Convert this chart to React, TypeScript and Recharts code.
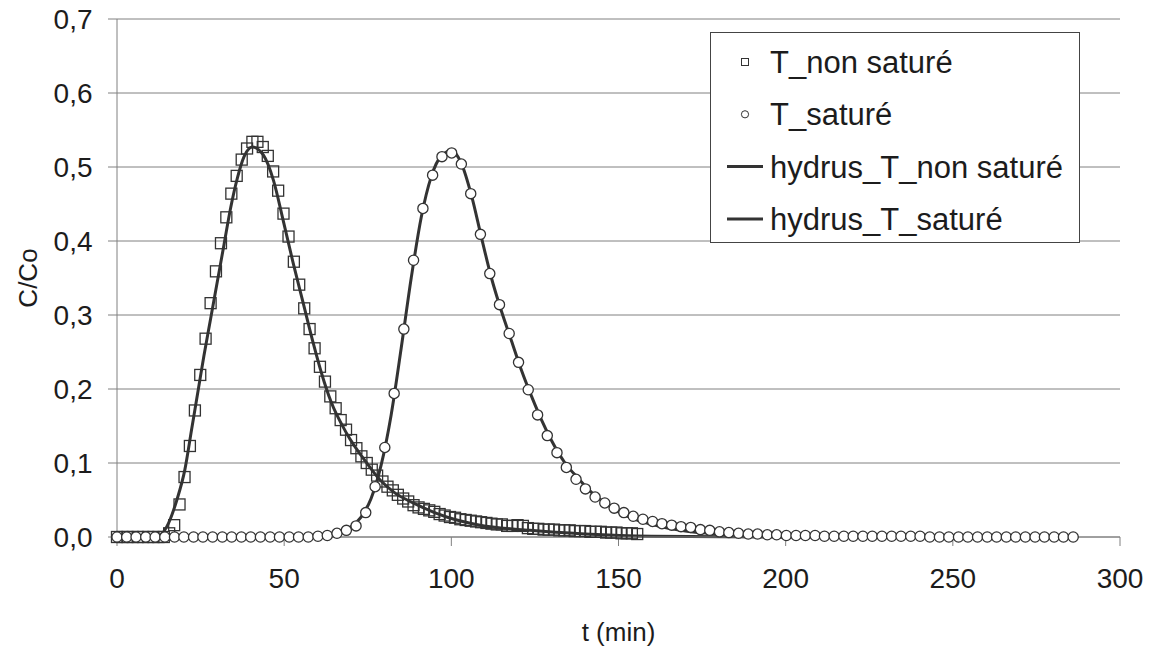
import { CartesianGrid, ComposedChart, Label, Line, Scatter, XAxis, YAxis } from "recharts";

const FONT = "'Liberation Sans', Arial, Helvetica, sans-serif";
const INK = "#333333";
const GRID = "#808080";
const TEXT = "#1c1c1c";

// measured: T_non saturé (squares)
const SQUARE_T = [
  0, 1.6, 3.1, 4.7, 6.2, 7.8, 9.3, 10.9, 12.4, 14.0,
  15.6, 17.1, 18.7, 20.2, 21.8, 23.3, 24.9, 26.5, 28.0, 29.6,
  31.1, 32.7, 34.2, 35.8, 37.3, 38.9, 40.5, 42.0, 43.6, 45.1,
  46.7, 48.2, 49.8, 51.3, 52.9, 54.5, 56.0, 57.6, 59.1, 60.7,
  62.2, 63.8, 65.4, 66.9, 68.5, 70.0, 71.6, 73.1, 74.7, 76.2,
  77.8, 79.4, 80.9, 82.5, 84.0, 85.6, 87.1, 88.7, 90.2, 91.8,
  93.4, 94.9, 96.5, 98.0, 99.6, 101.1, 102.7, 104.3, 105.8, 107.4,
  108.9, 110.5, 112.0, 113.6, 115.1, 116.7, 118.3, 119.8, 121.4, 122.9,
  124.5, 126.0, 127.6, 129.1, 130.7, 132.3, 133.8, 135.4, 136.9, 138.5,
  140.0, 141.6, 143.2, 144.7, 146.3, 147.8, 149.4, 150.9, 152.5, 154.0,
  155.6,
];
const SQUARE_C = [
  0, 0, 0, 0, 0, 0, 0, 0, 0, 0,
  0.005, 0.016, 0.044, 0.081, 0.123, 0.171, 0.219, 0.268, 0.316, 0.359,
  0.397, 0.432, 0.464, 0.488, 0.51, 0.525, 0.534, 0.534, 0.527, 0.515,
  0.494, 0.468, 0.437, 0.406, 0.372, 0.341, 0.309, 0.281, 0.255, 0.23,
  0.21, 0.19, 0.174, 0.158, 0.145, 0.131, 0.12, 0.109, 0.1, 0.091,
  0.083, 0.075, 0.068, 0.063, 0.057, 0.052, 0.048, 0.043, 0.04, 0.038,
  0.036, 0.034, 0.031, 0.029, 0.027, 0.026, 0.024, 0.023, 0.022, 0.021,
  0.02, 0.019, 0.018, 0.017, 0.017, 0.015, 0.015, 0.016, 0.015, 0.012,
  0.011, 0.011, 0.01, 0.01, 0.01, 0.009, 0.009, 0.009, 0.008, 0.008,
  0.008, 0.007, 0.007, 0.007, 0.006, 0.006, 0.006, 0.005, 0.005, 0.005,
  0.004,
];

// measured: T_saturé (circles)
const CIRCLE_T = [
  0, 2.9, 5.7, 8.6, 11.4, 14.3, 17.2, 20.0, 22.9, 25.7,
  28.6, 31.5, 34.3, 37.2, 40.0, 42.9, 45.8, 48.6, 51.5, 54.3,
  57.2, 60.1, 62.9, 65.8, 68.6, 71.5, 74.4, 77.2, 80.1, 82.9,
  85.8, 88.7, 91.5, 94.4, 97.2, 100.1, 103.0, 105.8, 108.7, 111.5,
  114.4, 117.3, 120.1, 123.0, 125.8, 128.7, 131.6, 134.4, 137.3, 140.1,
  143.0, 145.9, 148.7, 151.6, 154.4, 157.3, 160.2, 163.0, 165.9, 168.7,
  171.6, 174.5, 177.3, 180.2, 183.0, 185.9, 188.8, 191.6, 194.5, 197.3,
  200.2, 203.1, 205.9, 208.8, 211.6, 214.5, 217.4, 220.2, 223.1, 225.9,
  228.8, 231.7, 234.5, 237.4, 240.2, 243.1, 246.0, 248.8, 251.7, 254.5,
  257.4, 260.3, 263.1, 266.0, 268.8, 271.7, 274.6, 277.4, 280.3, 283.1,
  286.0,
];
const CIRCLE_C = [
  0, 0, 0, 0, 0, 0, 0, 0, 0, 0,
  0, 0, 0, 0, 0, 0, 0, 0, 0, 0,
  0, 0.001, 0.002, 0.005, 0.009, 0.015, 0.033, 0.068, 0.121, 0.194,
  0.281, 0.374, 0.444, 0.489, 0.514, 0.519, 0.504, 0.464, 0.409, 0.356,
  0.314, 0.275, 0.236, 0.199, 0.165, 0.137, 0.114, 0.094, 0.078, 0.065,
  0.054, 0.046, 0.039, 0.033, 0.028, 0.024, 0.021, 0.018, 0.016, 0.014,
  0.013, 0.01, 0.009, 0.007, 0.006, 0.005, 0.004, 0.004, 0.003, 0.003,
  0.002, 0.002, 0.002, 0.002, 0.001, 0.001, 0.001, 0.001, 0.001, 0.001,
  0.001, 0.001, 0.001, 0.001, 0.001, 0, 0, 0, 0, 0,
  0, 0, 0, 0, 0, 0, 0, 0, 0, 0,
  0,
];

// model: hydrus_T_non saturé
const HYD_NS_T = [
  0, 10, 12.3, 14.9, 17.9, 20.3, 22.3, 24.3, 26, 28, 30, 32, 34, 36, 38, 40.5,
  43.8, 46.8, 49.7, 52.7, 55.7, 58.7, 61.2, 64, 68.7, 74.7, 78.7, 83, 88.6,
  98.6, 108.6, 123.5, 140, 160, 200,
];
const HYD_NS_C = [
  0, 0, 0.001, 0.014, 0.05, 0.091, 0.145, 0.199, 0.245, 0.295, 0.345, 0.395,
  0.445, 0.485, 0.514, 0.527, 0.516, 0.482, 0.428, 0.37, 0.316, 0.262, 0.221,
  0.183, 0.14, 0.1, 0.077, 0.06, 0.046, 0.027, 0.016, 0.009, 0.004, 0.001, 0,
];

// model: hydrus_T_saturé
const HYD_S_T = [
  0, 55, 62, 66, 70, 73, 76, 79, 82, 85, 88, 91, 94, 97, 100, 103, 106, 109,
  112, 115, 118, 121, 124, 127, 130, 134, 138, 142, 146, 150, 155, 160, 170,
  180, 190, 200,
];
const HYD_S_C = [
  0, 0, 0.002, 0.006, 0.014, 0.027, 0.052, 0.097, 0.165, 0.255, 0.35, 0.432,
  0.487, 0.515, 0.522, 0.505, 0.462, 0.405, 0.35, 0.305, 0.265, 0.225, 0.19,
  0.158, 0.13, 0.1, 0.079, 0.06, 0.046, 0.034, 0.024, 0.017, 0.008, 0.004,
  0.002, 0,
];

const X_TICKS = [0, 50, 100, 150, 200, 250, 300];
const Y_TICKS = [0, 0.1, 0.2, 0.3, 0.4, 0.5, 0.6, 0.7];

const LEGEND_ITEMS = [
  { label: "T_non saturé", kind: "square" },
  { label: "T_saturé", kind: "circle" },
  { label: "hydrus_T_non saturé", kind: "line" },
  { label: "hydrus_T_saturé", kind: "line" },
];

const zip = (ts: number[], cs: number[]) => ts.map((t, i) => ({ t, c: cs[i] }));

const squarePoints = zip(SQUARE_T, SQUARE_C);
const circlePoints = zip(CIRCLE_T, CIRCLE_C);
const hydrusNonSat = zip(HYD_NS_T, HYD_NS_C);
const hydrusSat = zip(HYD_S_T, HYD_S_C);

function SquareMarker(props: any) {
  const { cx, cy } = props;
  if (cx == null || cy == null) return null;
  return <rect x={cx - 5.5} y={cy - 5.5} width={11} height={11} fill="none" stroke={INK} strokeWidth={1.3} />;
}

function CircleMarker(props: any) {
  const { cx, cy } = props;
  if (cx == null || cy == null) return null;
  return <circle cx={cx} cy={cy} r={5.1} fill="#fff" stroke={INK} strokeWidth={1.3} />;
}

function XTick({ x, y, payload }: any) {
  return (
    <text x={x} y={y} dy={30} textAnchor="middle" dominantBaseline="central" fontSize={28} fontFamily={FONT} fill={TEXT}>
      {payload.value}
    </text>
  );
}

function YTick({ x, y, payload }: any) {
  return (
    <text x={x - 13.5} y={y} textAnchor="end" dominantBaseline="central" fontSize={28} fontFamily={FONT} fill={TEXT}>
      {payload.value.toFixed(1).replace(".", ",")}
    </text>
  );
}

function LegendBox() {
  return (
    <div style={{ position: "absolute", left: 710, top: 32, width: 370, height: 211 }}>
      <svg width={370} height={211}>
        <rect x={0.5} y={0.5} width={369} height={210} fill="#fff" stroke="#444" strokeWidth={1} />
        {LEGEND_ITEMS.map((item, i) => {
          const cy = 30 + i * 52.3;
          return (
            <g key={item.label}>
              {item.kind === "square" ? (
                <rect x={31.5} y={cy - 3.5} width={7} height={7} fill="none" stroke={INK} strokeWidth={1} />
              ) : null}
              {item.kind === "circle" ? <circle cx={35} cy={cy} r={3.6} fill="#fff" stroke={INK} strokeWidth={1} /> : null}
              {item.kind === "line" ? <line x1={17} x2={53} y1={cy} y2={cy} stroke={INK} strokeWidth={3} /> : null}
              <text x={60} y={cy + 11} fontSize={31} fontFamily={FONT} fill={TEXT}>
                {item.label}
              </text>
            </g>
          );
        })}
      </svg>
    </div>
  );
}

export default function App() {
  return (
    <div style={{ position: "absolute", left: 0, top: 0, width: 1154, height: 648, background: "#fff" }}>
      <ComposedChart width={1154} height={648} margin={{ top: 19, right: 34, bottom: 0, left: 0 }}>
        <CartesianGrid horizontal vertical={false} stroke={GRID} strokeWidth={1} />
        <XAxis
          type="number"
          dataKey="t"
          domain={[0, 300]}
          ticks={X_TICKS}
          height={111}
          stroke={GRID}
          tickSize={9}
          tick={<XTick />}
        >
          <Label
            content={({ viewBox }: any) => (
              <text
                x={viewBox.x + viewBox.width / 2}
                y={viewBox.y + 95}
                textAnchor="middle"
                dominantBaseline="central"
                fontSize={26}
                fontFamily={FONT}
                fill={TEXT}
              >
                t (min)
              </text>
            )}
          />
        </XAxis>
        <YAxis
          type="number"
          domain={[0, 0.7]}
          ticks={Y_TICKS}
          width={117}
          stroke={GRID}
          tickSize={9}
          tick={<YTick />}
        >
          <Label
            content={({ viewBox }: any) => (
              <g transform={`translate(28,${viewBox.y + viewBox.height / 2}) rotate(-90)`}>
                <text textAnchor="middle" dominantBaseline="central" fontSize={26} fontFamily={FONT} fill={TEXT}>
                  C/Co
                </text>
              </g>
            )}
          />
        </YAxis>
        <Line
          data={hydrusNonSat}
          dataKey="c"
          type="monotone"
          stroke={INK}
          strokeWidth={3}
          dot={false}
          activeDot={false}
          isAnimationActive={false}
        />
        <Line
          data={hydrusSat}
          dataKey="c"
          type="monotone"
          stroke={INK}
          strokeWidth={3}
          dot={false}
          activeDot={false}
          isAnimationActive={false}
        />
        <Scatter data={squarePoints} dataKey="c" shape={<SquareMarker />} isAnimationActive={false} />
        <Scatter data={circlePoints} dataKey="c" shape={<CircleMarker />} isAnimationActive={false} />
      </ComposedChart>
      <LegendBox />
    </div>
  );
}
